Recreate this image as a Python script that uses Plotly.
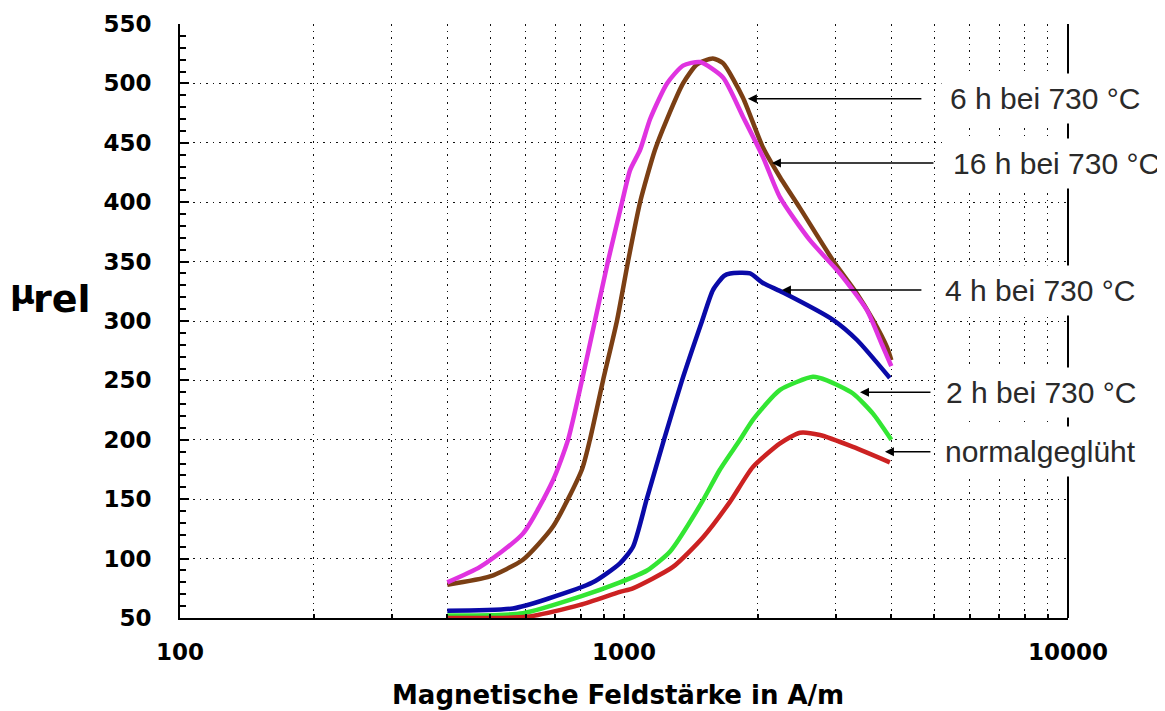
import math
import plotly.graph_objects as go

# ---------------- data ----------------
h16_x = [400, 474, 592, 692, 748, 804, 860, 920, 990, 1032, 1087, 1145, 1250, 1358, 1483, 1671, 1853, 2056, 2246, 2622, 3064, 3527, 3813, 4000]
h16_y = [80, 93, 121, 166, 200, 250, 300, 350, 400, 427, 444, 470, 500, 515, 518, 505, 472, 438, 404, 368, 340, 309, 280, 262]

h6_x = [400, 499, 592, 692, 804, 838, 897, 964, 1021, 1087, 1174, 1250, 1358, 1460, 1585, 1671, 1853, 2056, 2246, 2491, 2956, 3348, 3637, 3911, 4000]
h6_y = [78, 85, 99, 127, 175, 200, 250, 300, 350, 400, 444, 470, 500, 516, 521, 517, 488, 446, 421, 395, 351, 323, 301, 278, 267]

h4_x = [400, 562, 671, 851, 979, 1048, 1125, 1230, 1351, 1499, 1586, 1680, 1734, 1923, 2056, 2281, 2956, 3348, 3970]
h4_y = [56, 58, 66, 80, 96, 110, 150, 200, 250, 300, 326, 338, 340, 340, 332, 324, 301, 284, 252]

h2_x = [400, 592, 796, 979, 1127, 1270, 1490, 1645, 1825, 1953, 2246, 2665, 2864, 3279, 3637, 4000]
h2_y = [52, 54, 68, 80, 90, 106, 146, 175, 200, 217, 242, 253, 250, 239, 222, 200]

norm_x = [400, 605, 796, 979, 1047, 1289, 1507, 1734, 1950, 2246, 2491, 2763, 3279, 3970]
norm_y = [50, 51, 61, 72, 75, 93, 118, 148, 177, 197, 206, 204, 194, 181]

series_names = ["6 h bei 730 °C", "16 h bei 730 °C", "4 h bei 730 °C", "2 h bei 730 °C", "normalgeglüht"]
series_x = [h6_x, h16_x, h4_x, h2_x, norm_x]
series_y = [h6_y, h16_y, h4_y, h2_y, norm_y]
series_colors = ["#7B3F14", "#E033E0", "#0A0AA8", "#33E633", "#CC2222"]

# label arrow tips (on the curves), arrow lengths (px), label text left edge (paper)
label_tip_x = [1901, 2154, 2268, 3400, 3870]
label_tip_y = [487, 433, 326, 240, 190]
label_arrow_len = [175, 163, 141, 72, 47]
label_text_x = [0.857, 0.860, 0.851, 0.852, 0.851]

x_tickvals = [100, 200, 300, 400, 500, 600, 700, 800, 900,
              1000, 2000, 3000, 4000, 5000, 6000, 7000, 8000, 9000, 10000]
x_ticktext = ["100", "", "", "", "", "", "", "", "",
              "1000", "", "", "", "", "", "", "", "", "10000"]
y_tickvals = [50, 100, 150, 200, 250, 300, 350, 400, 450, 500, 550]

# ---------------- figure ----------------
fig = go.Figure()
for nm, xs, ys, col in zip(series_names, series_x, series_y, series_colors):
    fig.add_trace(go.Scatter(x=xs, y=ys, mode="lines", name=nm,
                             line=dict(color=col, width=4.5, shape="spline", smoothing=0.6),
                             showlegend=False))

tickfont = dict(family="DejaVu Sans", size=23, color="black", weight="bold")
grid_dash = "1.5px,5px"

fig.update_layout(
    width=1157, height=703,
    margin=dict(l=172, r=97, t=16, b=93, autoexpand=False),
    paper_bgcolor="white", plot_bgcolor="white",
    xaxis=dict(type="log", range=[2, 4], tickvals=x_tickvals, ticktext=x_ticktext,
               showgrid=True, gridcolor="#111", gridwidth=1.2, griddash=grid_dash,
               showline=True, linecolor="black", linewidth=2, automargin=False,
               ticks="inside", ticklen=4, tickcolor="black", tickwidth=1.5,
               tickfont=tickfont, ticklabelstandoff=12, zeroline=False),
    yaxis=dict(range=[50, 550], tickvals=y_tickvals, automargin=False,
               showgrid=True, gridcolor="#111", gridwidth=1.2, griddash=grid_dash,
               showline=True, linecolor="black", linewidth=2,
               ticks="inside", ticklen=9, tickcolor="black", tickwidth=1.5,
               minor=dict(dtick=10, ticks="inside", ticklen=6, tickcolor="black", tickwidth=1.5, showgrid=False),
               tickfont=tickfont, ticklabelstandoff=22, zeroline=False),
)

# right border at 10000
fig.add_shape(type="line", xref="paper", yref="paper", x0=1, x1=1, y0=0, y1=1,
              line=dict(color="black", width=2))

# label arrows and texts
for nm, tx, ty, alen, lx in zip(series_names, label_tip_x, label_tip_y, label_arrow_len, label_text_x):
    fig.add_annotation(x=math.log10(tx), y=ty, xref="x", yref="y", text="",
                       showarrow=True, ax=alen, ay=0, axref="pixel", ayref="pixel",
                       arrowhead=2, arrowsize=1.2, arrowwidth=1.5, arrowcolor="black")
    fig.add_annotation(x=lx, y=ty, xref="paper", yref="y", text=nm, showarrow=False,
                       xanchor="left", yanchor="middle", bgcolor="white", borderpad=8,
                       font=dict(family="Liberation Sans", size=30, color="#2a2a2a"))

# axis titles
fig.add_annotation(x=0.493, y=-0.1296, xref="paper", yref="paper",
                   text="Magnetische Feldstärke in A/m", showarrow=False,
                   xanchor="center", yanchor="middle",
                   font=dict(family="DejaVu Sans", size=26, color="black", weight="bold"))
fig.add_annotation(x=-0.177, y=0.549, xref="paper", yref="paper", text="µ", showarrow=False,
                   xanchor="center", yanchor="middle",
                   font=dict(family="DejaVu Sans", size=34, color="black", weight="bold"))
fig.add_annotation(x=-0.133, y=0.537, xref="paper", yref="paper", text="rel", showarrow=False,
                   xanchor="center", yanchor="middle",
                   font=dict(family="DejaVu Sans", size=38, color="black", weight="bold"))

fig.write_html("out.html")
